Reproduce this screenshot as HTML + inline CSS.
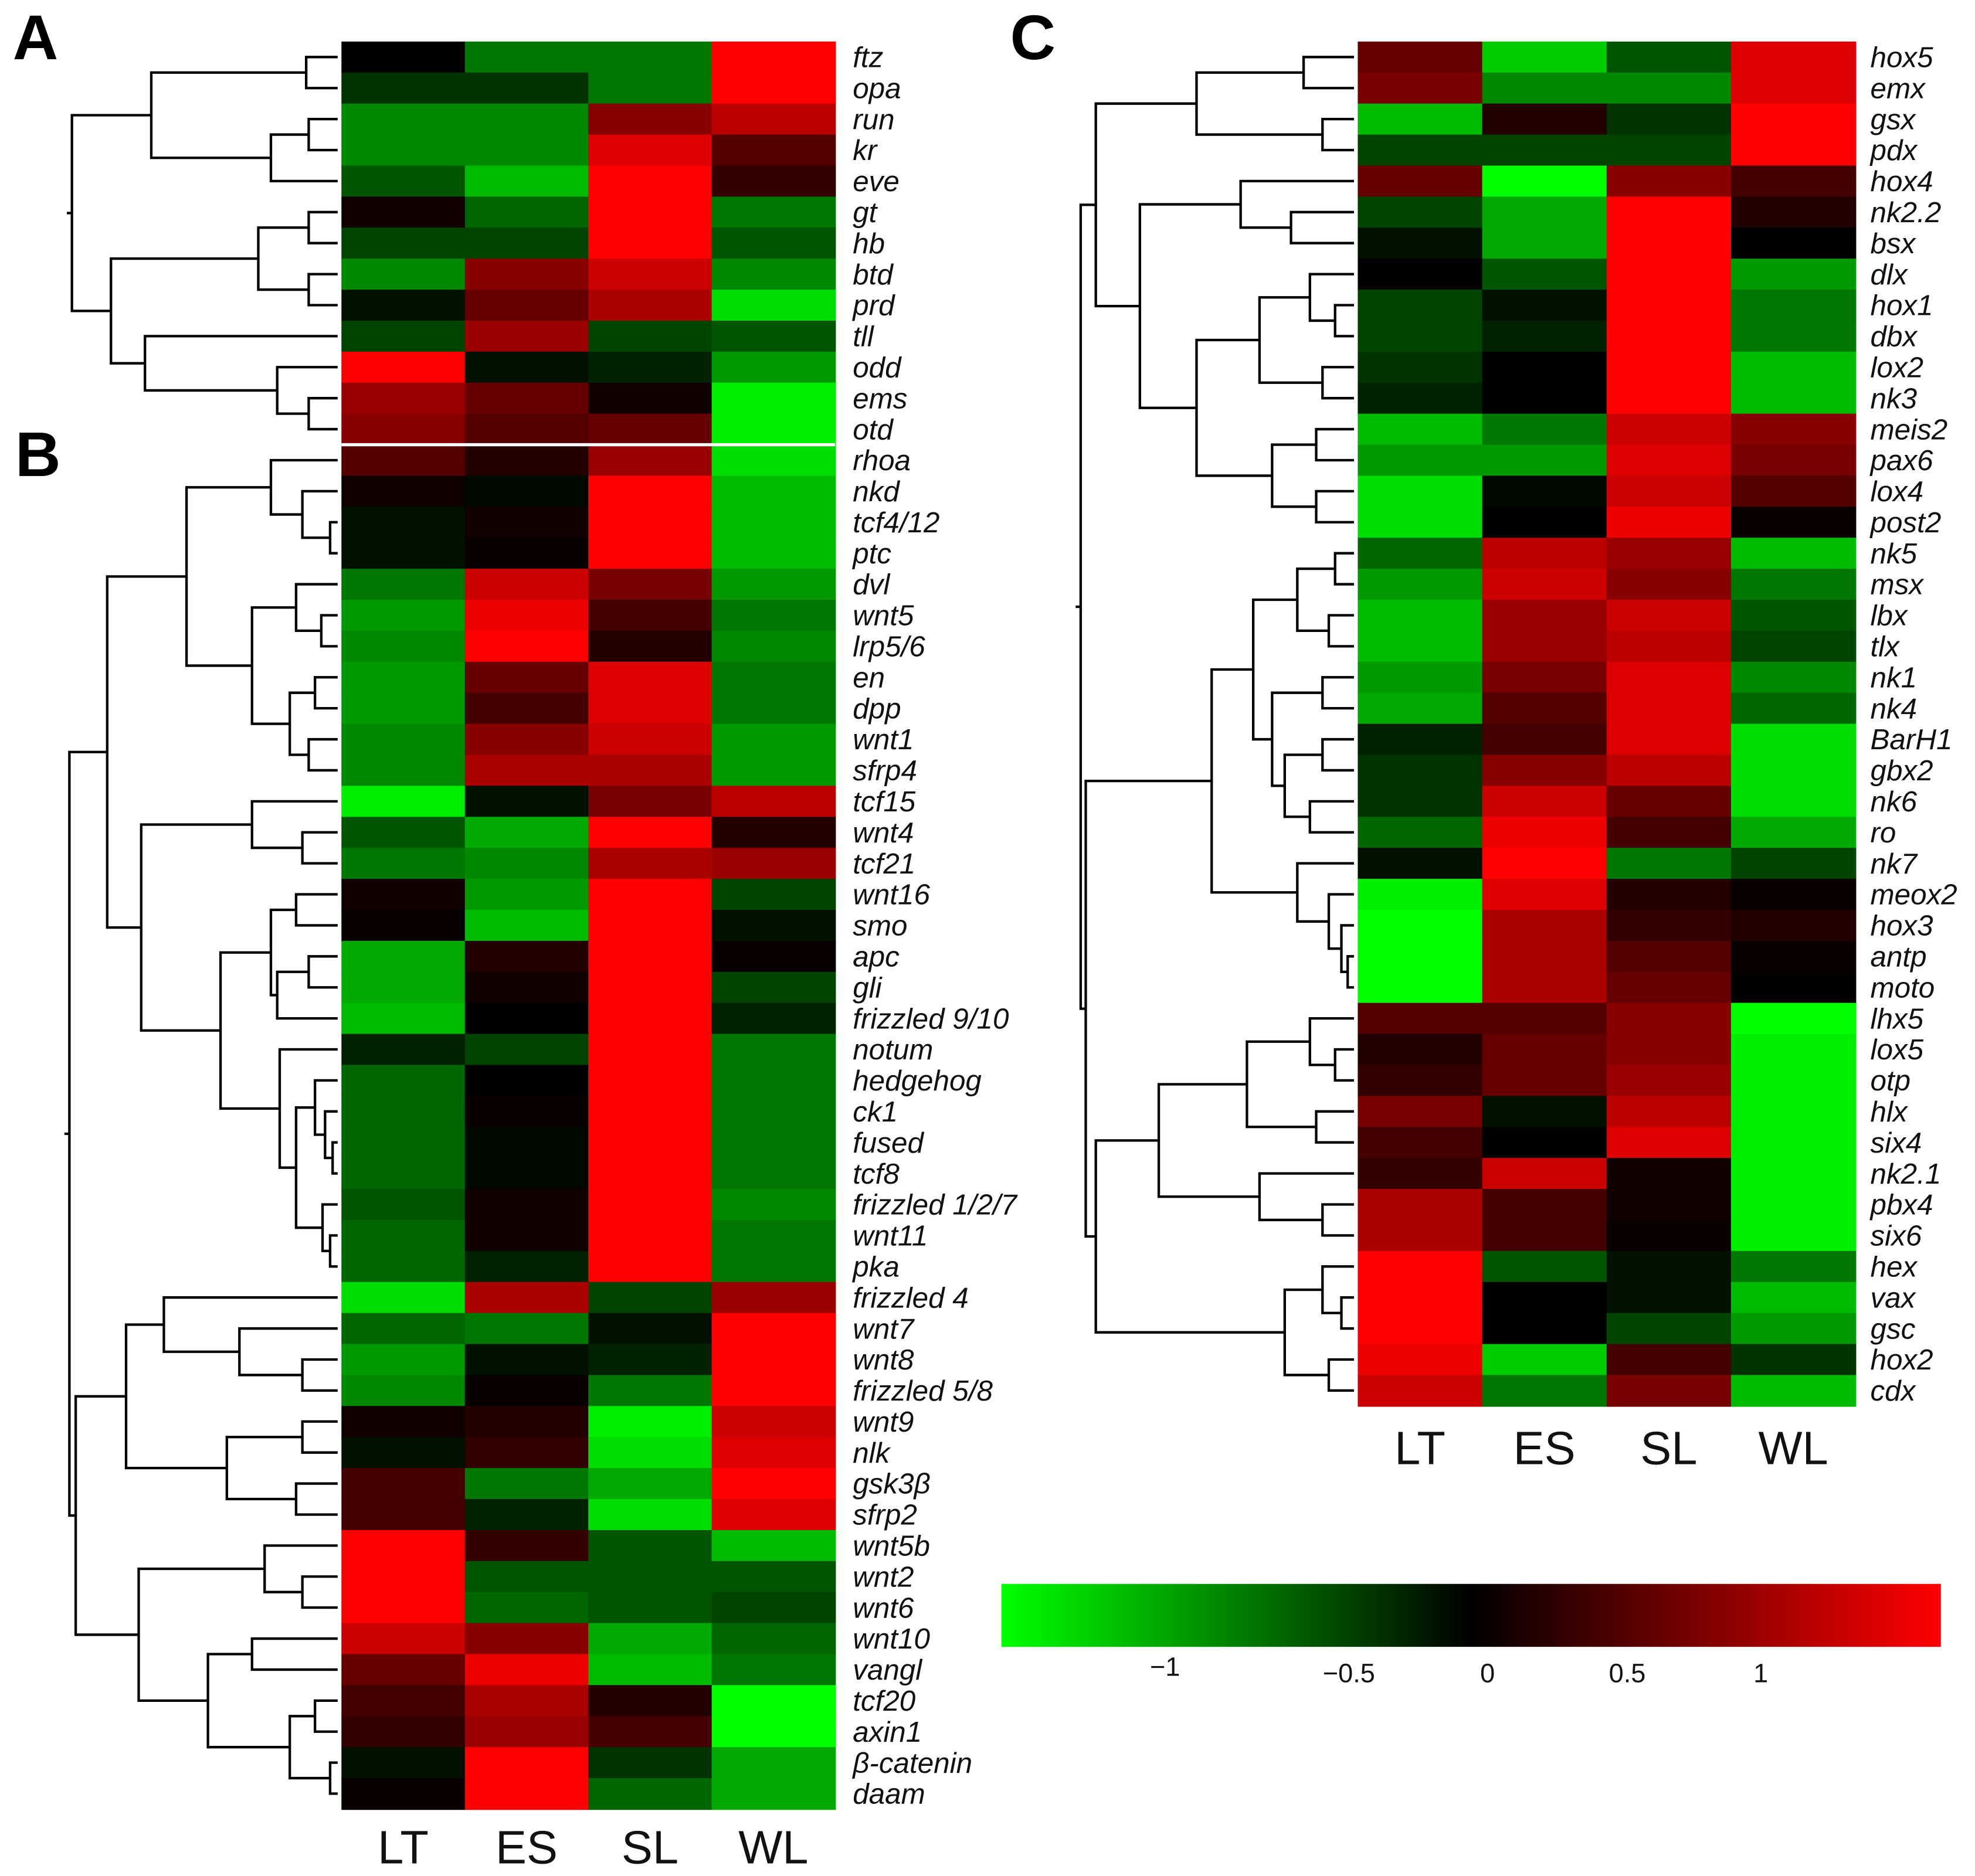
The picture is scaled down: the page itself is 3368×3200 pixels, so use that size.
<!DOCTYPE html>
<html><head><meta charset="utf-8"><style>
html,body{margin:0;padding:0;background:#fff;}
svg{display:block;}
text{font-family:"Liberation Sans",sans-serif;}
</style></head><body>
<svg id="fig" width="3368" height="3200" viewBox="0 0 1568 1490" xmlns="http://www.w3.org/2000/svg">
<defs><linearGradient id="cb" x1="0" x2="1" y1="0" y2="0">
<stop offset="0" stop-color="#00ff00"/><stop offset="0.5" stop-color="#000"/><stop offset="1" stop-color="#ff0000"/></linearGradient></defs>
<g id="root"></g>
</svg>
<script>
const conditions = ["LT","ES","SL","WL"];
const genesA = ["ftz","opa","run","kr","eve","gt","hb","btd","prd","tll","odd","ems","otd"];
const valuesA = [[0,-0.7,-0.7,1.5],[-0.3,-0.3,-0.7,1.5],[-0.8,-0.8,0.8,1.1],[-0.8,-0.8,1.3,0.5],[-0.5,-1.1,1.5,0.3],[0.1,-0.6,1.5,-0.7],[-0.4,-0.4,1.5,-0.5],[-0.8,0.8,1.2,-0.8],[-0.1,0.6,1.0,-1.3],[-0.4,0.9,-0.4,-0.5],[1.5,-0.1,-0.2,-0.9],[0.9,0.6,0.1,-1.4],[0.8,0.5,0.6,-1.4]];
const genesB = ["rhoa","nkd","tcf4/12","ptc","dvl","wnt5","lrp5/6","en","dpp","wnt1","sfrp4","tcf15","wnt4","tcf21","wnt16","smo","apc","gli","frizzled 9/10","notum","hedgehog","ck1","fused","tcf8","frizzled 1/2/7","wnt11","pka","frizzled 4","wnt7","wnt8","frizzled 5/8","wnt9","nlk","gsk3β","sfrp2","wnt5b","wnt2","wnt6","wnt10","vangl","tcf20","axin1","β-catenin","daam"];
const valuesB = [[0.5,0.2,0.9,-1.3],[0.1,-0.05,1.5,-1.1],[-0.1,0.1,1.5,-1.1],[-0.1,0.05,1.5,-1.1],[-0.7,1.2,0.7,-0.9],[-0.9,1.4,0.4,-0.7],[-0.8,1.5,0.2,-0.8],[-0.9,0.6,1.3,-0.7],[-0.9,0.4,1.3,-0.7],[-0.8,0.8,1.2,-0.9],[-0.8,1.0,1.0,-0.9],[-1.4,-0.1,0.7,1.1],[-0.5,-1.0,1.5,0.2],[-0.7,-0.8,1.0,0.9],[0.1,-0.9,1.5,-0.4],[0.05,-1.1,1.5,-0.1],[-1.0,0.2,1.5,0.05],[-1.0,0.1,1.5,-0.4],[-1.1,0,1.5,-0.2],[-0.2,-0.4,1.5,-0.7],[-0.6,0,1.5,-0.7],[-0.6,0.05,1.5,-0.7],[-0.6,-0.05,1.5,-0.7],[-0.6,-0.05,1.5,-0.7],[-0.5,0.1,1.5,-0.8],[-0.6,0.1,1.5,-0.7],[-0.6,-0.2,1.5,-0.7],[-1.3,1.0,-0.4,0.9],[-0.6,-0.7,-0.1,1.5],[-0.9,-0.1,-0.2,1.5],[-0.8,0.05,-0.7,1.5],[0.1,0.2,-1.4,1.2],[-0.1,0.3,-1.3,1.3],[0.4,-0.7,-1.0,1.5],[0.4,-0.2,-1.3,1.3],[1.5,0.3,-0.5,-1.1],[1.5,-0.5,-0.5,-0.5],[1.5,-0.6,-0.5,-0.4],[1.2,0.8,-1.0,-0.6],[0.6,1.4,-1.1,-0.7],[0.4,1.0,0.2,-1.5],[0.3,0.9,0.4,-1.5],[-0.1,1.5,-0.3,-1.0],[0.05,1.5,-0.6,-1.0]];
const genesC = ["hox5","emx","gsx","pdx","hox4","nk2.2","bsx","dlx","hox1","dbx","lox2","nk3","meis2","pax6","lox4","post2","nk5","msx","lbx","tlx","nk1","nk4","BarH1","gbx2","nk6","ro","nk7","meox2","hox3","antp","moto","lhx5","lox5","otp","hlx","six4","nk2.1","pbx4","six6","hex","vax","gsc","hox2","cdx"];
const valuesC = [[0.6,-1.2,-0.5,1.3],[0.7,-0.8,-0.8,1.3],[-1.1,0.2,-0.3,1.5],[-0.4,-0.4,-0.4,1.5],[0.6,-1.5,0.8,0.4],[-0.4,-1.0,1.5,0.2],[-0.1,-1.0,1.5,0],[0,-0.5,1.5,-0.9],[-0.4,-0.1,1.5,-0.7],[-0.4,-0.2,1.5,-0.7],[-0.3,0,1.5,-1.1],[-0.2,0,1.5,-1.1],[-1.1,-0.7,1.2,0.8],[-0.9,-0.9,1.3,0.7],[-1.3,-0.05,1.2,0.5],[-1.3,0,1.4,0.05],[-0.6,1.1,0.9,-1.1],[-0.9,1.2,0.8,-0.7],[-1.1,0.9,1.2,-0.5],[-1.1,0.9,1.1,-0.4],[-0.9,0.7,1.3,-0.8],[-1.0,0.5,1.3,-0.6],[-0.2,0.4,1.3,-1.3],[-0.3,0.8,1.1,-1.3],[-0.3,1.2,0.6,-1.3],[-0.6,1.4,0.4,-1.0],[-0.1,1.5,-0.7,-0.4],[-1.4,1.3,0.2,0.05],[-1.5,1.0,0.3,0.2],[-1.5,1.0,0.5,0.05],[-1.5,1.0,0.6,0.02],[0.5,0.5,0.8,-1.5],[0.2,0.6,0.8,-1.4],[0.3,0.6,0.9,-1.4],[0.7,-0.1,1.1,-1.4],[0.4,0.02,1.3,-1.4],[0.3,1.2,0.1,-1.4],[1.0,0.4,0.1,-1.4],[1.0,0.4,0.05,-1.4],[1.5,-0.5,-0.1,-0.7],[1.5,0.02,-0.1,-1.1],[1.5,0.02,-0.4,-0.9],[1.4,-1.2,0.4,-0.3],[1.2,-0.7,0.7,-1.1]];
const colorbarTicks = [-1,-0.5,0,0.5,1];
const treeA = [57,[120,[243,0,1],[215,[245,2,3],4]],[88,[205,[245,5,6],[245,7,8]],[115,9,[220,10,[245,11,12]]]]];
const treeB = [55,[85,[148,[215,0,[240,1,[262,2,3]]],[200,[235,4,[255,5,6]],[230,[250,7,8],[245,9,10]]]],[112,[200,11,[240,12,13]],[175,[215,[235,14,15],[220,[245,16,17],18]],[222,19,[235,[250,20,[258,21,[264,22,23]]],[256,24,[262,25,26]]]]]]],[60,[100,[130,27,[190,28,[240,29,30]]],[180,[240,31,32],[235,33,34]]],[110,[210,35,[240,36,37]],[165,[200,38,39],[230,[250,40,41],[262,42,43]]]]]];
const treeC = [858,[870,[950,[1035,0,1],[1050,2,3]],[905,[985,4,[1025,5,6]],[950,[1000,[1040,7,[1060,8,9]],[1050,10,11]],[1010,[1045,12,13],[1045,14,15]]]]],[862,[962,[995,[1030,[1060,16,17],[1055,18,19]],[1010,[1050,20,21],[1020,[1050,22,23],[1040,24,25]]]],[1030,26,[1055,27,[1065,28,[1070,29,30]]]]],[870,[920,[990,[1040,31,[1060,32,33]],[1045,34,35]],[1000,36,[1050,37,38]]],[1020,[1050,39,[1065,40,41]],[1055,42,43]]]]];

const NS="http://www.w3.org/2000/svg";
const root=document.getElementById('root');
function mk(tag,attrs,parent){const e=document.createElementNS(NS,tag);for(const k in attrs)e.setAttribute(k,attrs[k]);(parent||root).appendChild(e);return e;}
function colorOf(v){const t=Math.max(-1,Math.min(1,v/1.5));const c=Math.round(255*Math.abs(t));return t>=0?`rgb(${c},0,0)`:`rgb(0,${c},0)`;}
const ROW=24.63;
function heatmap(name,genes,vals,x0,y0,colW,labelX){
  const g=mk('g',{});
  
  
  vals.forEach((row,i)=>{
    row.forEach((v,j)=>{
      const r=mk('rect',{x:x0+j*colW,y:y0+i*ROW,width:colW+0.6,height:ROW+0.6,fill:colorOf(v)},g);
      
      
    });
    const t=mk('text',{x:labelX,y:y0+i*ROW+ROW/2+8,'font-size':23,'font-style':'italic',fill:'#111'},g);
    t.textContent=genes[i];
    
    
  });
}
function tree(name,node,y0,leafX){
  const g=mk('g',{stroke:'#000','stroke-width':2,fill:'none'});
  
  
  function rec(n){
    if(typeof n==='number')return {x:leafX,y:y0+n*ROW+ROW/2};
    const a=rec(n[1]),b=rec(n[2]),h=n[0];
    mk('path',{d:`M${a.x},${a.y}H${h}V${b.y}H${b.x}`},g);
    return {x:h,y:(a.y+b.y)/2};
  }
  const r=rec(node);
  mk('path',{d:`M${r.x},${r.y}H${r.x-4}`},g);
}
const yA=33, yB=33+13*ROW, yC=33;
heatmap('heatmap-a',genesA,valuesA,271,yA,98,677);
heatmap('heatmap-b',genesB,valuesB,271,yB,98,677);
heatmap('heatmap-c',genesC,valuesC,1078,yC,98.8,1485);
tree('dendrogram-a',treeA,yA,268);
tree('dendrogram-b',treeB,yB,268);
tree('dendrogram-c',treeC,yC,1075);
const sep=mk('line',{x1:271,x2:663,y1:yB,y2:yB,stroke:'#fff','stroke-width':2.5});


function colLabels(name,x0,colW,y){
  conditions.forEach((c,j)=>{
    const t=mk('text',{x:x0+j*colW+colW/2,y:y,'font-size':37,'text-anchor':'middle',fill:'#111'});
    t.textContent=c;
    
    
  });
}
colLabels('column-label-ab',271,98,1480);
colLabels('column-label-c',1078,98.8,1163);
[['A',10,47],['B',12,378],['C',802,47]].forEach(p=>{
  const t=mk('text',{x:p[1],y:p[2],'font-size':50,'font-weight':'bold',fill:'#000'});
  t.textContent=p[0];
  
  
});
const cb=mk('rect',{x:795,y:1258,width:746,height:50,fill:'url(#cb)'});


const tickPos={"-1":925,"-0.5":1071,"0":1181,"0.5":1292,"1":1398};
colorbarTicks.forEach(v=>{
  const t=mk('text',{x:tickPos[String(v)],y:v===-1?1331:1336,'font-size':21,'text-anchor':'middle',fill:'#111'});
  t.textContent=v<0?'−'+String(-v):String(v);
  
  
});
</script>
</body></html>
